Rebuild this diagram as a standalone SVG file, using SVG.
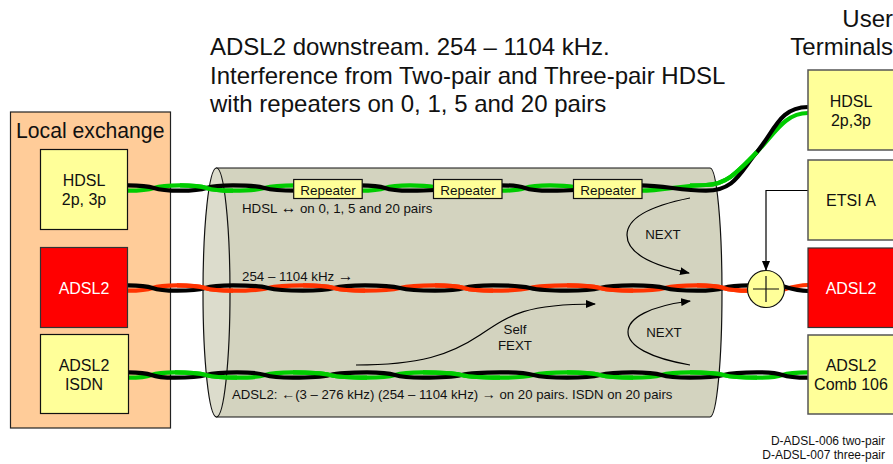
<svg xmlns="http://www.w3.org/2000/svg" width="893" height="464" viewBox="0 0 893 464">
<style>
text{font-family:"Liberation Sans",Arial,sans-serif;fill:#111}
.t{font-size:24px}.b{font-size:16px;text-anchor:middle}.s{font-size:13.300px}.r{font-size:13.500px;text-anchor:middle}.m{text-anchor:middle}
.ar{font-size:15.600px}
.y{fill:#ffff99;stroke:#111;stroke-width:1.2}.yr{fill:#ffff99;stroke:#555;stroke-width:1.5}
.red{fill:#ff0000;stroke:#333;stroke-width:1.2}
.k,.g,.o,.c{fill:none}
.k{stroke:#000;stroke-width:4.200}.g{stroke:#00cc00;stroke-width:4.200}.o{stroke:#ff3300;stroke-width:4.200}
.c{stroke:#000;stroke-width:1.2}
</style>
<defs>
<marker id="a" markerWidth="10" markerHeight="8" refX="9" refY="4" orient="auto" markerUnits="userSpaceOnUse"><path d="M0 0L10 4L0 8z" fill="#000"/></marker>
</defs>
<g id="local-exchange"><rect x="10.500" y="112" width="160" height="316" fill="#ffcc99" stroke="#222" stroke-width="1.2"/><text x="16" y="138" style="font-size:21.200px">Local exchange</text></g>
<g id="cable">
<path d="M216.500 168H710A12 124.500 0 0 1 710 417H216.500z" fill="#d3d3bf" stroke="#111" stroke-width="1.2"/>
<ellipse cx="216.500" cy="292.500" rx="13.500" ry="124.500" fill="#dcdccc" stroke="#111" stroke-width="1.2"/>
</g>
<g id="connectors">
<path class="g" d="M128 190.700C164 190.700 144 185.300 180 185.300C217 185.300 196 190.700 233 190.700C277 190.700 252 185.300 296 185.300"/>
<path class="k" d="M128 185.300C164 185.300 144 190.700 180 190.700C217 190.700 196 185.300 233 185.300C277 185.300 252 190.700 296 190.700"/>
<path class="g" d="M180 185.300C217 185.300 196 190.700 233 190.700"/>
<path class="g" d="M360 190.700C395 190.700 375 185.300 410 185.300C420 185.300 425 185.300 435 187"/>
<path class="k" d="M360 185.300C395 185.300 375 190.700 410 190.700C420 190.700 425 190.700 435 190"/>
<path class="g" d="M500 190.700C535 190.700 515 185.300 550 185.300C560 185.300 565 185.300 575 187"/>
<path class="k" d="M500 185.300C535 185.300 515 190.700 550 190.700C560 190.700 565 190.700 575 190"/>
<path class="g" d="M640 190.700C665 190.700 675 186 706 185C725 184.500 735 175 757 152C775 133 785 113 808 113"/>
<path class="k" d="M640 185.300C665 185.300 680 190.700 706 190.700C735 190.700 740 172 757 152C775 130 780 107 808 107"/>
<path class="g" d="M690 185.400C700 185 703 185 706 185C725 184.500 735 175 757 152"/>
<path class="o" d="M128 290.700C162 290.700 143 285.300 177 285.300C216 285.300 194 290.700 233 290.700C282 290.700 254 285.300 303 285.300C346 285.300 322 290.700 365 290.700C414 290.700 386 285.300 435 285.300C476 285.300 452 290.700 493 290.700C545 290.700 515 285.300 567 285.300C613 285.300 587 290.700 633 290.700C678 290.700 652 285.300 697 285.300C734 285.300 713 290.700 750 290.700"/>
<path class="k" d="M128 285.300C162 285.300 143 290.700 177 290.700C216 290.700 194 285.300 233 285.300C282 285.300 254 290.700 303 290.700C346 290.700 322 285.300 365 285.300C414 285.300 386 290.700 435 290.700C476 290.700 452 285.300 493 285.300C545 285.300 515 290.700 567 290.700C613 290.700 587 285.300 633 285.300C678 285.300 652 290.700 697 290.700C734 290.700 713 285.300 750 285.300"/>
<path class="o" d="M177 285.300C216 285.300 194 290.700 233 290.700M303 285.300C346 285.300 322 290.700 365 290.700M435 285.300C476 285.300 452 290.700 493 290.700M567 285.300C613 285.300 587 290.700 633 290.700M697 285.300C734 285.300 713 290.700 750 290.700"/>
<path class="o" d="M782 290C792 287 798 285 808 285"/>
<path class="k" d="M782 286C792 289 798 291 808 291"/>
<path class="g" d="M128 377.700C161 377.700 142 372.300 175 372.300C218 372.300 194 377.700 237 377.700C276 377.700 254 372.300 293 372.300C345 372.300 315 377.700 367 377.700C406 377.700 384 372.300 423 372.300C477 372.300 446 377.700 500 377.700C547 377.700 520 372.300 567 372.300C613 372.300 587 377.700 633 377.700C673 377.700 650 372.300 690 372.300C737 372.300 710 377.700 757 377.700C793 377.700 772 372.300 808 372.300"/>
<path class="k" d="M128 372.300C161 372.300 142 377.700 175 377.700C218 377.700 194 372.300 237 372.300C276 372.300 254 377.700 293 377.700C345 377.700 315 372.300 367 372.300C406 372.300 384 377.700 423 377.700C477 377.700 446 372.300 500 372.300C547 372.300 520 377.700 567 377.700C613 377.700 587 372.300 633 372.300C673 372.300 650 377.700 690 377.700C737 377.700 710 372.300 757 372.300C793 372.300 772 377.700 808 377.700"/>
<path class="g" d="M175 372.300C218 372.300 194 377.700 237 377.700M293 372.300C345 372.300 315 377.700 367 377.700M423 372.300C477 372.300 446 377.700 500 377.700M567 372.300C613 372.300 587 377.700 633 377.700M690 372.300C737 372.300 710 377.700 757 377.700"/>
<path class="c" d="M690 198C640 208 627 222 627 235C627 255 655 266 689 273" marker-end="url(#a)"/>
<path class="c" d="M690 365C650 358 628 346 628 332C628 318 650 306 690 301" marker-end="url(#a)"/>
<path class="c" d="M356 365C420 365 450 355 480 335C510 315 525 304 595 304" marker-end="url(#a)"/>
<path class="c" d="M808 190.500H766V270" marker-end="url(#a)"/>
</g>
<g id="sum"><circle cx="766" cy="289" r="18.500" fill="#ffff99" stroke="#111" stroke-width="1.2"/><path d="M753 289H779M766 276V302" stroke="#111" stroke-width="1.2"/></g>
<g id="hdsl-left"><rect class="y" x="40.500" y="149.500" width="87" height="80"/><text class="b" x="84" y="186">HDSL</text><text class="b" x="84" y="205">2p, 3p</text></g>
<g id="adsl2-left"><rect class="red" x="40.500" y="247.500" width="87" height="80"/><text class="b" x="84" y="294" style="fill:#fff">ADSL2</text></g>
<g id="adsl2-isdn"><rect class="y" x="40.500" y="334.500" width="88" height="79"/><text class="b" x="84" y="371">ADSL2</text><text class="b" x="84" y="390">ISDN</text></g>
<g id="repeater-1"><rect class="y" x="293.700" y="179.500" width="68.500" height="19"/><text class="r" x="328" y="195">Repeater</text></g>
<g id="repeater-2"><rect class="y" x="433.500" y="179.500" width="68.500" height="19"/><text class="r" x="468" y="195">Repeater</text></g>
<g id="repeater-3"><rect class="y" x="573.500" y="179.500" width="68.500" height="19"/><text class="r" x="608" y="195">Repeater</text></g>
<g id="hdsl-right"><rect class="yr" x="808" y="70" width="90" height="80"/><text class="b" x="851" y="107">HDSL</text><text class="b" x="851" y="126">2p,3p</text></g>
<g id="etsi-a"><rect class="yr" x="808" y="160" width="90" height="80"/><text class="b" x="851" y="206">ETSI A</text></g>
<g id="adsl2-right"><rect class="red" x="808" y="248" width="90" height="79.500"/><text class="b" x="851" y="294" style="fill:#fff">ADSL2</text></g>
<g id="adsl2-comb"><rect class="yr" x="808" y="335" width="90" height="79"/><text class="b" x="851" y="371">ADSL2</text><text class="b" x="851" y="390">Comb 106</text></g>
<g id="labels">
<text class="t" x="210" y="55">ADSL2 downstream. 254 – 1104 kHz.</text>
<text class="t" x="210" y="84">Interference from Two-pair and Three-pair HDSL</text>
<text class="t" x="210" y="112">with repeaters on 0, 1, 5 and 20 pairs</text>
<text class="t" x="893" y="27" text-anchor="end">User</text>
<text class="t" x="893" y="55" text-anchor="end">Terminals</text>
<text class="s" x="242" y="212.500">HDSL <tspan class="ar">↔</tspan> on 0, 1, 5 and 20 pairs</text>
<text class="s" x="242" y="280.500">254 – 1104 kHz <tspan class="ar">→</tspan></text>
<text class="s" x="232" y="399" style="font-size:13.200px">ADSL2: <tspan style="font-size:14px">←</tspan>(3 – 276 kHz) (254 – 1104 kHz) <tspan style="font-size:14px">→</tspan> on 20 pairs. ISDN on 20 pairs</text>
<text class="s m" x="663" y="239">NEXT</text>
<text class="s m" x="664" y="337">NEXT</text>
<text class="s m" x="515" y="334">Self</text>
<text class="s m" x="515" y="350">FEXT</text>
<text class="s" x="885" y="445" text-anchor="end" style="font-size:12px">D-ADSL-006 two-pair</text>
<text class="s" x="885" y="459" text-anchor="end" style="font-size:12px">D-ADSL-007 three-pair</text>
</g>
</svg>
